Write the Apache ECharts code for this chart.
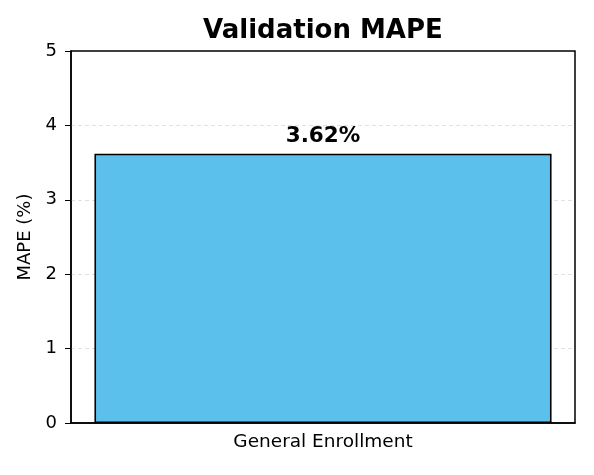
<!DOCTYPE html>
<html><head><meta charset="utf-8">
<script src="https://cdn.jsdelivr.net/npm/echarts@6/dist/echarts.min.js"></script>
<style>html,body{margin:0;padding:0;background:#fff}#c{width:594px;height:475px}</style>
</head><body><div id="c"></div>
<script>
const categories = ["General Enrollment"];
const mapeValues = [3.62];
const yTicks = [0, 1, 2, 3, 4, 5];

const chart = echarts.init(document.getElementById('c'));
chart.setOption({
  animation: false,
  title: { text: 'Validation MAPE', left: 198, top: 13,
    textStyle: { fontFamily: 'DejaVu Sans', fontWeight: 'bold', fontSize: 26, color: '#000' } },
  grid: { left: 71, right: 19, top: 51, bottom: 52, show: true, borderColor: '#000', borderWidth: 1.5, backgroundColor: 'transparent' },
  xAxis: {
    type: 'category', data: categories,
    axisLine: { lineStyle: { color: '#000', width: 1.5 } },
    axisTick: { alignWithLabel: true, length: 6, lineStyle: { color: '#000', width: 1 } },
    axisLabel: { color: '#000', fontFamily: 'DejaVu Sans', fontSize: 18.5, margin: 10 }
  },
  yAxis: {
    type: 'value', min: yTicks[0], max: yTicks[yTicks.length - 1], interval: 1,
    name: 'MAPE (%)', nameLocation: 'middle', nameGap: 34,
    nameTextStyle: { color: '#000', fontFamily: 'DejaVu Sans', fontSize: 18 },
    axisLine: { show: true, lineStyle: { color: '#000', width: 1.5 } },
    axisTick: { show: true, length: 6, lineStyle: { color: '#000', width: 1 } },
    axisLabel: { color: '#000', fontFamily: 'DejaVu Sans', fontSize: 18, margin: 14 },
    splitLine: { show: true, showMaxLine: false, showMinLine: false, lineStyle: { color: '#d9d9d9', type: [4, 3], width: 0.8 } }
  },
  series: [{
    type: 'bar', data: mapeValues, barWidth: '90.7%',
    itemStyle: { color: '#5bc0eb', borderColor: '#000', borderWidth: 1.6 },
    label: { show: true, position: 'top', distance: 6,
      formatter: p => p.value.toFixed(2) + '%',
      fontFamily: 'DejaVu Sans', fontWeight: 'bold', fontSize: 21.5, color: '#000' }
  }]
});
</script></body></html>
